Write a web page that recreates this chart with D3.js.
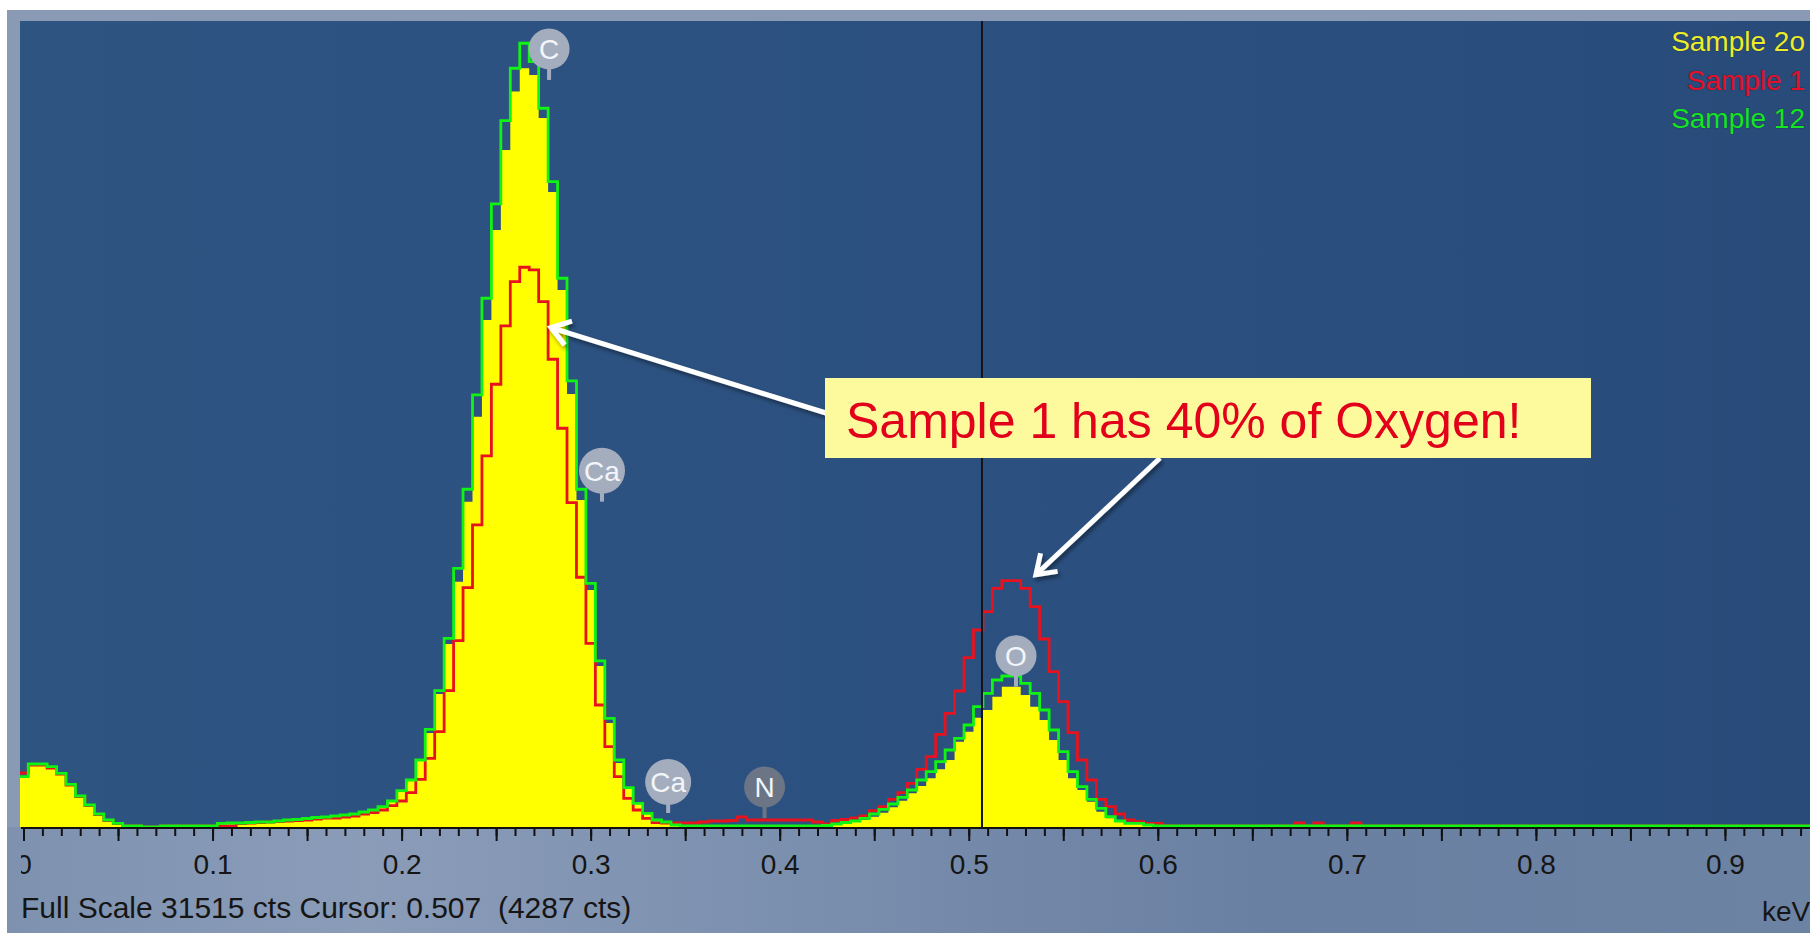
<!DOCTYPE html>
<html>
<head>
<meta charset="utf-8">
<script src="https://cdn.jsdelivr.net/npm/d3@7"></script>
<style>
  html, body { margin: 0; padding: 0; background: #fff; overflow: hidden; }
  svg { display: block; }
  text { font-family: "Liberation Sans", Arial, sans-serif; }
</style>
</head>
<body>
<script>
// Channel width of the spectrum, keV (bin i is centred on i * binWidth).
const binWidth = 0.005;

// Counts per channel, 0 .. 0.95 keV.
const sample12 = [
  1974, 2473, 2473, 2367, 2108, 1676, 1217, 864, 510, 275,
  145, 39, 39, 0, 0, 39, 39, 39, 39, 39,
  39, 145, 157, 157, 177, 196, 196, 236, 275, 294,
  334, 373, 393, 432, 471, 510, 589, 667, 797, 1021,
  1425, 1845, 2630, 3835, 5350, 7406, 10154, 13255, 16956, 20752,
  24453, 27722, 29779, 30760, 30038, 28209, 25328, 21536, 17506, 13255,
  9565, 6516, 4266, 2630, 1543, 930, 538, 275, 196, 79,
  39, 39, 39, 39, 39, 39, 39, 39, 39, 39,
  39, 39, 39, 39, 39, 59, 118, 177, 236, 341,
  510, 695, 903, 1166, 1452, 1845, 2171, 2563, 3022, 3481,
  4004, 4722, 5248, 5770, 5927, 5927, 5640, 5248, 4592, 3807,
  2956, 2171, 1582, 1087, 734, 404, 236, 145, 145, 79,
  39, 39, 39, 39, 39, 39, 39, 39, 39, 39,
  39, 39, 39, 39, 39, 39, 39, 39, 39, 39,
  39, 39, 39, 39, 39, 39, 39, 39, 39, 39,
  39, 39, 39, 39, 39, 39, 39, 39, 39, 39,
  39, 39, 39, 39, 39, 39, 39, 39, 39, 39,
  39, 39, 39, 39, 39, 39, 39, 39, 39, 39,
  39, 39, 39, 39, 39, 39, 39, 39, 39, 39,
  39
];

const sample1 = [
  2120, 2434, 2434, 2316, 2080, 1649, 1197, 844, 491, 255,
  137, 39, 39, 0, 0, 39, 39, 39, 39, 39,
  39, 39, 39, 137, 157, 177, 196, 216, 236, 255,
  275, 314, 353, 353, 393, 432, 510, 569, 667, 836,
  1021, 1346, 1872, 2696, 3741, 5350, 7312, 9393, 11854, 14562,
  17376, 19664, 21403, 21968, 21862, 20618, 18357, 15649, 12729, 9801,
  7210, 4789, 3152, 1974, 1126, 667, 341, 169, 157, 157,
  157, 157, 196, 236, 236, 255, 393, 275, 275, 275,
  275, 275, 275, 275, 196, 118, 255, 294, 353, 432,
  640, 797, 1087, 1346, 1715, 2265, 2759, 3638, 4463, 5338,
  6645, 7732, 8451, 9369, 9667, 9667, 9369, 8647, 7379, 6096,
  4918, 3701, 2630, 1845, 1087, 797, 510, 275, 208, 145,
  145, 51, 39, 39, 39, 39, 39, 39, 39, 39,
  39, 39, 39, 39, 39, 157, 39, 157, 39, 39,
  39, 157, 39, 39, 39, 39, 39, 39, 39, 39,
  39, 39, 39, 39, 39, 39, 39, 39, 39, 39,
  39, 39, 39, 39, 39, 39, 39, 39, 39, 39,
  39, 39, 39, 39, 39, 39, 39, 39, 39, 39,
  39, 39, 39, 39, 39, 39, 39, 39, 39, 39,
  39
];

const sample2o = [
  1974, 2473, 2473, 2367, 2108, 1676, 1217, 864, 510, 275,
  145, 39, 39, 0, 0, 39, 39, 39, 39, 39,
  39, 145, 157, 157, 177, 196, 196, 236, 275, 294,
  334, 373, 393, 432, 471, 510, 589, 667, 797, 1021,
  1425, 1845, 2630, 3690, 5220, 7183, 9628, 12768, 16104, 19900,
  23432, 26572, 28861, 29779, 29516, 27828, 24924, 21077, 16995, 12835,
  9302, 6319, 4082, 2512, 1492, 903, 510, 255, 177, 59,
  27, 27, 27, 27, 27, 27, 27, 27, 27, 27,
  27, 27, 27, 27, 27, 39, 79, 137, 196, 275,
  404, 561, 773, 1032, 1323, 1609, 1911, 2265, 2630, 3348,
  3741, 4287, 4592, 5114, 5507, 5507, 5181, 4722, 4200, 3415,
  2630, 1911, 1452, 993, 601, 341, 208, 118, 118, 59,
  27, 27, 27, 27, 27, 27, 27, 27, 27, 27,
  27, 27, 27, 27, 27, 27, 27, 27, 27, 27,
  27, 27, 27, 27, 27, 27, 27, 27, 27, 27,
  27, 27, 27, 27, 27, 27, 27, 27, 27, 27,
  27, 27, 27, 27, 27, 27, 27, 27, 27, 27,
  27, 27, 27, 27, 27, 27, 27, 27, 27, 27,
  27, 27, 27, 27, 27, 27, 27, 27, 27, 27,
  27
];

// Legend.
const seriesNames = ["Sample 2o", "Sample 1", "Sample 12"];
const seriesColors = ["#ffff00", "#e8121e", "#10f414"];
const legendColors = ["#ecec2a", "#e2102a", "#14e424"];

// Energy axis.
const tickValues = [0, 0.1, 0.2, 0.3, 0.4, 0.5, 0.6, 0.7, 0.8, 0.9];
const tickLabels = ["0", "0.1", "0.2", "0.3", "0.4", "0.5", "0.6", "0.7", "0.8", "0.9"];

// Element line markers.
const elementLabels = ["C", "Ca", "Ca", "N", "O"];
const elementEnergies = [0.278, 0.306, 0.341, 0.392, 0.525];
const elementCounts = [29320, 12768, 550, 353, 5507];
const elementFills = ["#a4adbd", "#a4adbd", "#a4adbd", "#6c7585", "#a4adbd"];

// Status line.
const fullScale = 31515;
const cursorEnergy = 0.507;
const cursorCounts = 4287;

// Callout.
const noteText = "Sample 1 has 40% of Oxygen!";
const noteEnergies = [0.279, 0.5355];
const noteCounts = [19600, 9900];

// Sizes.
const width = 1810;
const height = 933;
const plot = { left: 20, top: 21, right: 1810, bottom: 827 };

const svg = d3.select("body").append("svg")
  .attr("width", width)
  .attr("height", height);

const defs = svg.append("defs");

const plotBg = defs.append("linearGradient").attr("id", "plotBg");
plotBg.append("stop").attr("offset", "0%").attr("stop-color", "#2e5482");
plotBg.append("stop").attr("offset", "60%").attr("stop-color", "#2b5080");
plotBg.append("stop").attr("offset", "100%").attr("stop-color", "#284b7a");

const floorBg = defs.append("linearGradient").attr("id", "floorBg");
floorBg.append("stop").attr("offset", "0%").attr("stop-color", "#7e92b0");
floorBg.append("stop").attr("offset", "20%").attr("stop-color", "#8a9cb8");
floorBg.append("stop").attr("offset", "45%").attr("stop-color", "#7a8eae");
floorBg.append("stop").attr("offset", "70%").attr("stop-color", "#6a80a2");
floorBg.append("stop").attr("offset", "100%").attr("stop-color", "#6d83a4");

defs.append("clipPath").attr("id", "plotClip")
  .append("rect")
  .attr("x", plot.left).attr("y", plot.top)
  .attr("width", plot.right - plot.left).attr("height", plot.bottom - plot.top + 2);

defs.append("clipPath").attr("id", "floorClip")
  .append("rect")
  .attr("x", plot.left + 1).attr("y", plot.bottom - 4)
  .attr("width", plot.right - plot.left).attr("height", height - plot.bottom + 4);

const shadow = defs.append("filter").attr("id", "shadow")
  .attr("x", "-20%").attr("y", "-20%").attr("width", "140%").attr("height", "140%");
shadow.append("feDropShadow")
  .attr("dx", 2).attr("dy", 3).attr("stdDeviation", 2)
  .attr("flood-color", "#000").attr("flood-opacity", 0.45);

// Scales.
const xScale = d3.scaleLinear().domain([0, 1]).range([23.5, 1914]);
const yScale = d3.scaleLinear().domain([0, fullScale]).range([plot.bottom, 24]);

// Frame and backgrounds.
svg.append("rect").attr("x", 7).attr("y", 10)
  .attr("width", width - 7).attr("height", height - 10)
  .attr("fill", "#8a99b4");
svg.append("rect").attr("x", 7).attr("y", plot.bottom)
  .attr("width", width - 7).attr("height", height - plot.bottom)
  .attr("fill", "url(#floorBg)");
svg.append("rect").attr("x", plot.left).attr("y", plot.top)
  .attr("width", plot.right - plot.left).attr("height", plot.bottom - plot.top)
  .attr("fill", "url(#plotBg)");

// Histogram as a stepped outline: two points per channel.
function stepPoints(values) {
  const pts = [];
  values.forEach((v, i) => {
    const e = i * binWidth;
    pts.push([e - binWidth / 2, v], [e + binWidth / 2, v]);
  });
  return pts;
}

const area = d3.area()
  .x(d => xScale(d[0]))
  .y0(yScale(0))
  .y1(d => yScale(d[1]));

const line = d3.line()
  .x(d => xScale(d[0]))
  .y(d => yScale(d[1]));

const specLayer = svg.append("g").attr("clip-path", "url(#plotClip)");

specLayer.append("path")
  .attr("d", area(stepPoints(sample2o)))
  .attr("fill", seriesColors[0]);

specLayer.append("path")
  .attr("d", line(stepPoints(sample1)))
  .attr("fill", "none")
  .attr("stroke", seriesColors[1])
  .attr("stroke-width", 2.8);

specLayer.append("path")
  .attr("d", line(stepPoints(sample12)))
  .attr("fill", "none")
  .attr("stroke", seriesColors[2])
  .attr("stroke-width", 2.8);

// Cursor.
specLayer.append("line")
  .attr("x1", xScale(cursorEnergy)).attr("x2", xScale(cursorEnergy))
  .attr("y1", plot.top).attr("y2", plot.bottom + 1)
  .attr("stroke", "#141414")
  .attr("stroke-width", 2);

// Axis: minor ticks every 0.01, longer ones every 0.05, labels every 0.1.
const axisClip = svg.append("g").attr("clip-path", "url(#floorClip)");
const axisLayer = axisClip.append("g")
  .attr("transform", `translate(0, ${plot.bottom + 1})`);

const minorTicks = d3.range(0, 96).map(i => i / 100);
const midTicks = d3.range(0, 20).map(i => i / 20);

axisLayer.append("g")
  .call(d3.axisBottom(xScale).tickValues(minorTicks).tickSize(8).tickSizeOuter(0).tickFormat(""))
  .call(g => g.select(".domain").remove());

axisLayer.append("g")
  .call(d3.axisBottom(xScale).tickValues(midTicks).tickSize(13).tickSizeOuter(0).tickFormat(""))
  .call(g => g.select(".domain").remove());

axisLayer.append("g")
  .call(d3.axisBottom(xScale).tickValues(tickValues).tickSize(0).tickPadding(0)
    .tickFormat((d, i) => tickLabels[i]))
  .call(g => g.select(".domain").remove());

axisLayer.selectAll(".tick line").attr("stroke", "#111").attr("stroke-width", 2);
axisLayer.selectAll(".tick text")
  .attr("y", 26)
  .attr("dy", "0.71em")
  .attr("fill", "#151515")
  .style("font-size", "28px")
  .style("font-family", "'Liberation Sans', Arial, sans-serif");

axisLayer.append("line")
  .attr("x1", plot.left).attr("x2", plot.right)
  .attr("y1", 0).attr("y2", 0)
  .attr("stroke", "#111").attr("stroke-width", 2.2);

// Status line and unit.
svg.append("text")
  .attr("x", 21).attr("y", 918)
  .style("white-space", "pre")
  .attr("fill", "#151515")
  .style("font-size", "30px")
  .text(`Full Scale ${fullScale} cts Cursor: ${cursorEnergy.toFixed(3)}  (${cursorCounts} cts)`);

svg.append("text")
  .attr("x", 1762).attr("y", 921)
  .attr("fill", "#151515")
  .style("font-size", "28px")
  .text("keV");

// Element markers.
const markers = svg.append("g").selectAll("g")
  .data(elementLabels)
  .join("g")
  .attr("transform", (d, i) => `translate(${xScale(elementEnergies[i])}, ${yScale(elementCounts[i])})`);

markers.append("line")
  .attr("x1", 0).attr("x2", 0).attr("y1", 0).attr("y2", -14)
  .attr("stroke", (d, i) => elementFills[i]).attr("stroke-width", 4);

markers.append("circle")
  .attr("cy", -31)
  .attr("r", d => d.length > 1 ? 23 : 20.5)
  .attr("fill", (d, i) => elementFills[i]);

markers.append("text")
  .attr("y", -31)
  .attr("dy", "0.36em")
  .attr("text-anchor", "middle")
  .attr("fill", "#f2f5fa")
  .style("font-size", "28px")
  .text(d => d);

// Legend.
svg.append("g").selectAll("text")
  .data(seriesNames)
  .join("text")
  .attr("x", 1805)
  .attr("y", (d, i) => 51 + i * 38.5)
  .attr("text-anchor", "end")
  .attr("fill", (d, i) => legendColors[i])
  .attr("stroke", "rgba(20,30,40,0.35)")
  .attr("stroke-width", 1.2)
  .style("paint-order", "stroke")
  .style("font-size", "28px")
  .text(d => d);

// Callout arrows (tails run under the note box).
const tails = [[826, 413], [1160, 458]];
const arrows = svg.append("g").attr("filter", "url(#shadow)");

noteEnergies.forEach((e, i) => {
  const tx = xScale(e), ty = yScale(noteCounts[i]);
  const [sx, sy] = tails[i];
  const ang = Math.atan2(sy - ty, sx - tx);
  const arm = 22, spread = 0.6;
  arrows.append("line")
    .attr("x1", sx).attr("y1", sy).attr("x2", tx).attr("y2", ty)
    .attr("stroke", "#fff").attr("stroke-width", 5);
  arrows.append("path")
    .attr("d", `M${tx + arm * Math.cos(ang - spread)},${ty + arm * Math.sin(ang - spread)}` +
      `L${tx},${ty}` +
      `L${tx + arm * Math.cos(ang + spread)},${ty + arm * Math.sin(ang + spread)}`)
    .attr("fill", "none")
    .attr("stroke", "#fff")
    .attr("stroke-width", 5)
    .attr("stroke-linejoin", "miter");
});

// Note box.
svg.append("rect")
  .attr("x", 825).attr("y", 378)
  .attr("width", 766).attr("height", 80)
  .attr("fill", "#fdf99d");

svg.append("text")
  .attr("x", 846).attr("y", 438)
  .attr("fill", "#e2001b")
  .style("font-size", "50px")
  .text(noteText);
</script>
</body>
</html>
